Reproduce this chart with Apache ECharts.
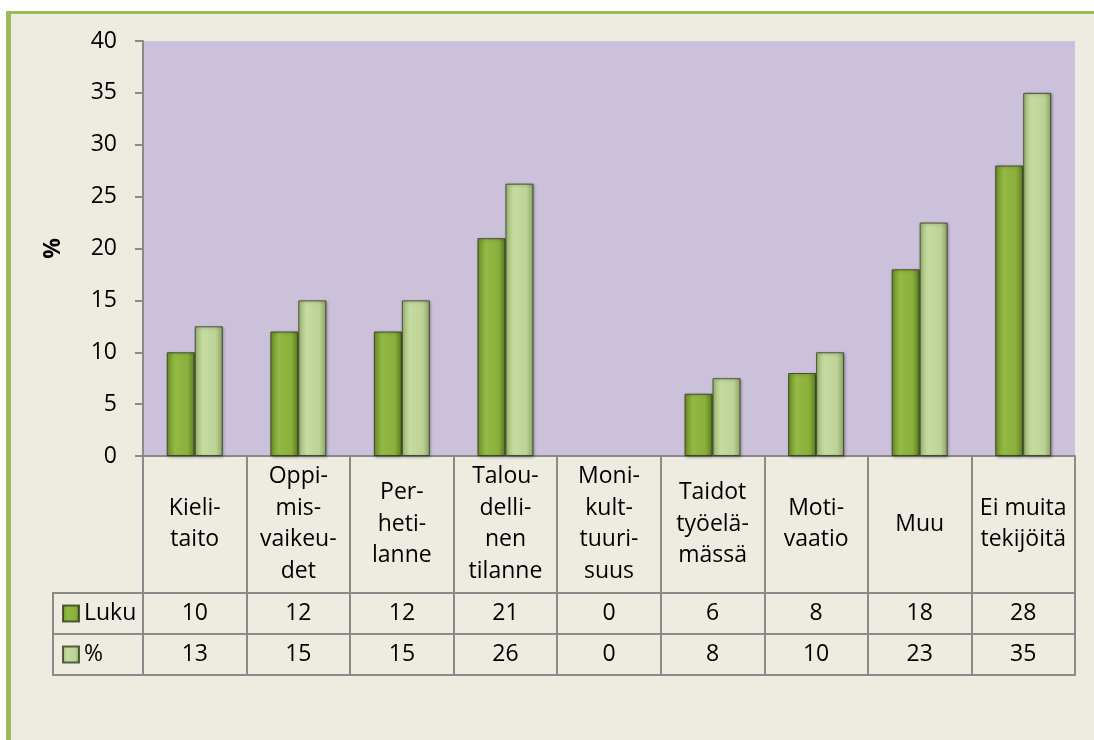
<!DOCTYPE html>
<html>
<head>
<meta charset="utf-8">
<script src="https://cdn.jsdelivr.net/npm/echarts@6/dist/echarts.min.js"></script>
<style>
  html, body { margin: 0; padding: 0; background: #ffffff; }
  #chart { width: 1094px; height: 740px; }
</style>
</head>
<body>
<div id="chart"></div>
<script>
// categories (Finnish, hyphenated as in the original)
const categories = [
  'Kieli-\ntaito',
  'Oppi-\nmis-\nvaikeu-\ndet',
  'Per-\nheti-\nlanne',
  'Talou-\ndelli-\nnen\ntilanne',
  'Moni-\nkult-\ntuuri-\nsuus',
  'Taidot\ntyöelä-\nmässä',
  'Moti-\nvaatio',
  'Muu',
  'Ei muita\ntekijöitä'
]
const lukuValues = [10, 12, 12, 21, 0, 6, 8, 18, 28]
const pctValues = [12.5, 15, 15, 26.25, 0, 7.5, 10, 22.5, 35]
const seriesNames = ['Luku', '%']

const font = '"Open Sans", "Noto Sans", sans-serif'
const fs = 23
const lineColor = '#8a8a8a'

const chart = echarts.init(document.getElementById('chart'), null, { renderer: 'canvas' })

// bar fills, horizontal gradient for the rounded look
const darkFill = new echarts.graphic.LinearGradient(0, 0, 1, 0, [
  { offset: 0, color: '#6f9128' },
  { offset: 0.3, color: '#93ba44' },
  { offset: 0.75, color: '#8aaf3b' },
  { offset: 1, color: '#5a7a1c' }
])
const lightFill = new echarts.graphic.LinearGradient(0, 0, 1, 0, [
  { offset: 0, color: '#a3bb76' },
  { offset: 0.3, color: '#c6dba1' },
  { offset: 0.75, color: '#bdd296' },
  { offset: 1, color: '#8ca263' }
])

const tableAxis = (offset, labels) => ({
  type: 'category',
  data: categories,
  position: 'bottom',
  offset: offset,
  axisLine: { show: true, lineStyle: { color: lineColor, width: 2 } },
  axisTick: { show: false },
  axisLabel: {
    show: !!labels,
    interval: 0,
    margin: 20,
    verticalAlign: 'middle',
    fontFamily: font,
    fontSize: fs,
    color: '#000',
    formatter: (v, i) => labels ? String(labels[i]) : ''
  }
})

const barStyle = fill => ({
  color: fill,
  borderColor: 'rgba(40,50,20,0.75)',
  borderWidth: 1,
  shadowColor: 'rgba(0,0,0,0.35)',
  shadowBlur: 3,
  shadowOffsetX: 1,
  shadowOffsetY: 1
})

// empty bars get no outline, so nothing shows for a zero value
const barData = values => values.map(v => v === 0 ? { value: v, itemStyle: { borderWidth: 0, shadowBlur: 0, shadowColor: 'transparent' } } : v)

chart.setOption({
  backgroundColor: '#ffffff',
  animation: false,
  graphic: [
    // chart area background with the green frame
    { type: 'rect', shape: { x: 8, y: 12, width: 1100, height: 740 }, style: { fill: '#eeece1' }, z: -10 },
    { type: 'rect', shape: { x: 6, y: 11, width: 1100, height: 3 }, style: { fill: '#9bbb59' }, z: -9 },
    { type: 'rect', shape: { x: 6, y: 11, width: 5, height: 740 }, style: { fill: '#9bbb59' }, z: -9 },
    // legend column of the data table
    { type: 'line', shape: { x1: 53, y1: 593, x2: 143, y2: 593 }, style: { stroke: lineColor, lineWidth: 2 } },
    { type: 'line', shape: { x1: 53, y1: 634, x2: 143, y2: 634 }, style: { stroke: lineColor, lineWidth: 2 } },
    { type: 'line', shape: { x1: 53, y1: 675, x2: 143, y2: 675 }, style: { stroke: lineColor, lineWidth: 2 } },
    { type: 'line', shape: { x1: 53, y1: 592, x2: 53, y2: 676 }, style: { stroke: lineColor, lineWidth: 2 } }
  ],
  legend: {
    orient: 'vertical',
    left: 62,
    top: 602,
    padding: 0,
    itemWidth: 16,
    itemHeight: 16,
    itemGap: 18,
    icon: 'rect',
    data: seriesNames,
    textStyle: { fontFamily: font, fontSize: fs, lineHeight: 23, height: 23, color: '#000' }
  },
  grid: {
    left: 143,
    right: 19,
    top: 41,
    bottom: 284,
    show: true,
    backgroundColor: '#cbc1da',
    borderWidth: 0
  },
  xAxis: [
    {
      type: 'category',
      data: categories,
      position: 'bottom',
      axisLine: { show: true, lineStyle: { color: lineColor, width: 2 } },
      axisTick: { show: true, interval: 0, length: 219, lineStyle: { color: lineColor, width: 2 } },
      axisLabel: {
        interval: 0,
        margin: 68,
        verticalAlign: 'middle',
        fontFamily: font,
        fontSize: fs,
        lineHeight: 31.5,
        color: '#000'
      }
    },
    tableAxis(137, lukuValues),
    tableAxis(178, pctValues.map(v => Math.round(v))),
    tableAxis(219, null)
  ],
  yAxis: {
    type: 'value',
    min: 0,
    max: 40,
    interval: 5,
    name: '%',
    nameLocation: 'middle',
    nameGap: 78,
    nameTextStyle: { fontFamily: font, fontSize: fs, fontWeight: 'bold', color: '#000' },
    axisLine: { show: true, lineStyle: { color: lineColor, width: 2 } },
    axisTick: { show: true, length: 8, lineStyle: { color: lineColor, width: 2 } },
    axisLabel: { margin: 26, fontFamily: font, fontSize: fs, color: '#000' },
    splitLine: { show: false }
  },
  series: [
    {
      name: seriesNames[0],
      type: 'bar',
      data: barData(lukuValues),
      barWidth: 28,
      barGap: '0%',
      itemStyle: barStyle(darkFill)
    },
    {
      name: seriesNames[1],
      type: 'bar',
      data: barData(pctValues),
      barWidth: 28,
      barGap: '0%',
      itemStyle: barStyle(lightFill)
    }
  ]
})
</script>
</body>
</html>
